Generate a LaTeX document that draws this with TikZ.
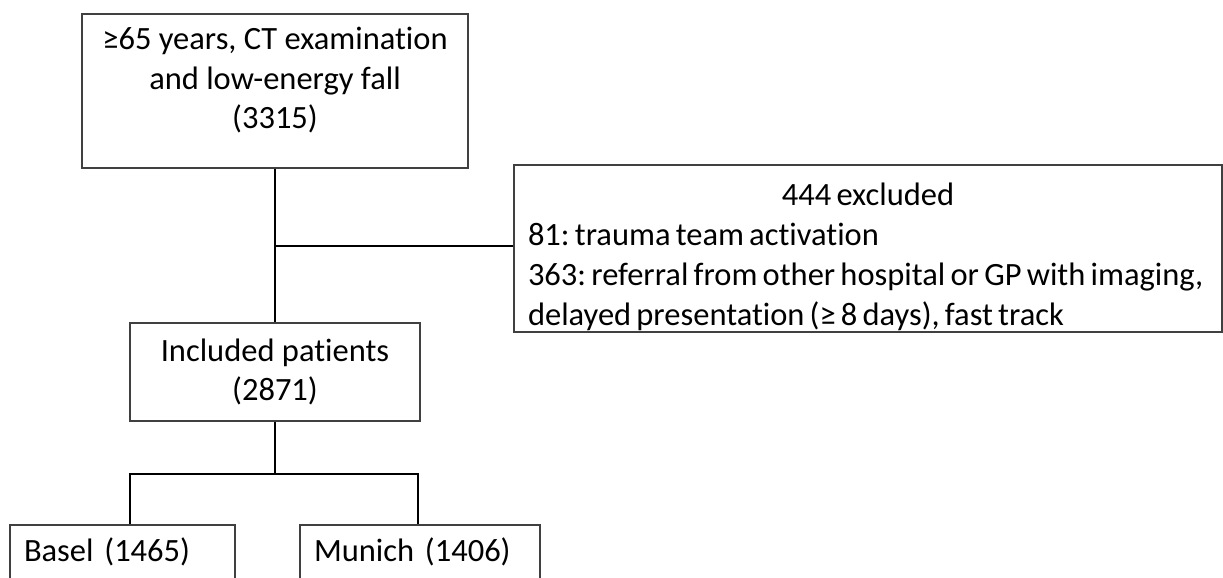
\documentclass[tikz,border=0pt]{standalone}
\usepackage{fontspec}
\setmainfont[Ligatures=NoCommon]{Carlito}
\usetikzlibrary{positioning, calc}

\tikzset{
  flowbox/.style={draw=black!75, line width=1.3pt, rectangle, inner sep=0pt, align=center},
  flowline/.style={draw=black, line width=2pt}
}

\begin{document}
\frenchspacing
\begin{tikzpicture}[x=1pt, y=-1pt, every node/.style={font=\fontsize{32.5}{39.5}\selectfont}]
  \useasboundingbox (0,0) rectangle (1223,578);
  \clip (0,0) rectangle (1223,578);

  % Boxes
  \node[flowbox, minimum width=386pt, minimum height=154pt] (start) at (275,91)
    {≥65 years, CT examination\\and low-energy fall\\(3315)\rule[-26pt]{0pt}{26pt}};

  \node[flowbox, minimum width=708pt, minimum height=167pt, text width=680pt, align=left,
        font=\fontsize{32.5}{40}\selectfont] (excl) at (868,248.5)
    {\spaceskip=0.16em
     \makebox[\linewidth][c]{\rule{0pt}{40pt}444 excluded}\\
     \mbox{81: trauma team activation}\\
     \mbox{363: referral from other hospital or GP with imaging,}\\
     \mbox{delayed presentation (≥ 8 days), fast track}};

  \node[flowbox, minimum width=290pt, minimum height=98pt] (incl) at (275,372)
    {Included patients\\(2871)};

  \node[flowbox, minimum width=225pt, minimum height=100pt, text width=197pt, align=left] (basel) at (122.5,575)
    {Basel (1465)\\ \strut};
  \node[flowbox, minimum width=240pt, minimum height=100pt, text width=212pt, align=left] (munich) at (420,575)
    {Munich (1406)\\ \strut};

  % Connectors
  \coordinate (jn) at (275,246);
  \coordinate (split) at (275,474);
  \coordinate (bl) at (130,474);
  \coordinate (mr) at (418,474);

  \draw[flowline] (start.south) -- (incl.north);
  \draw[flowline] (jn) -- (excl.west |- jn);
  \draw[flowline] (incl.south) -- (split);
  \draw[flowline] (bl |- basel.north) -- (bl) -- (mr) -- (mr |- munich.north);
\end{tikzpicture}
\end{document}
